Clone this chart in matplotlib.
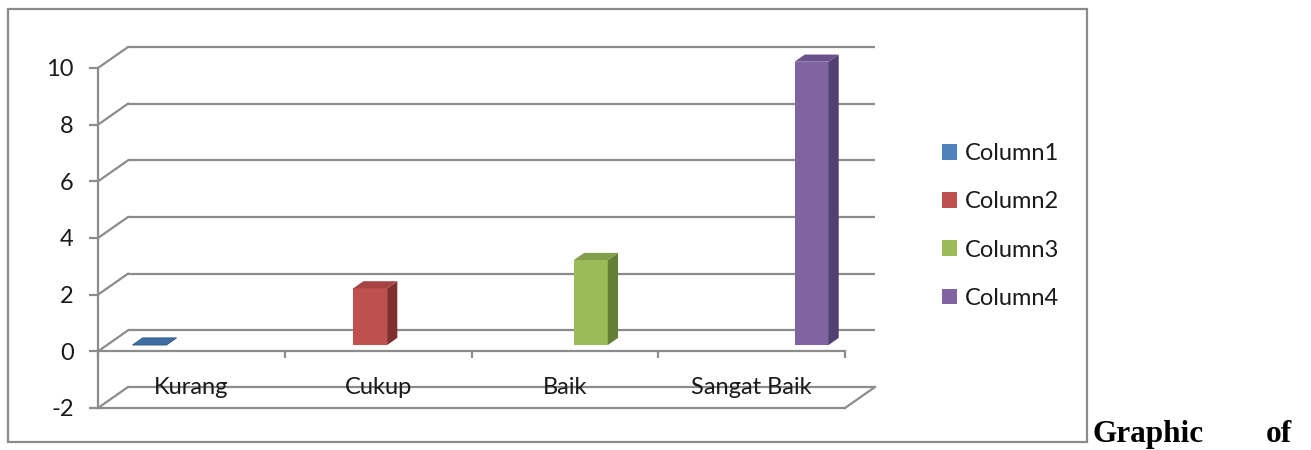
import numpy as np
import matplotlib
matplotlib.use("Agg")
import matplotlib.pyplot as plt
from matplotlib.patches import Polygon, Rectangle

# ---- data ----
categories = ["Kurang", "Cukup", "Baik", "Sangat Baik"]
series_names = ["Column1", "Column2", "Column3", "Column4"]
column1 = [0, np.nan, np.nan, np.nan]
column2 = [np.nan, 2, np.nan, np.nan]
column3 = [np.nan, np.nan, 3, np.nan]
column4 = [np.nan, np.nan, np.nan, 10]
yticks = [-2, 0, 2, 4, 6, 8, 10]

front_colors = ["#4F81BD", "#C0504D", "#9BBB59", "#8064A2"]
top_colors = ["#3F6EA5", "#A54442", "#849F4B", "#69528A"]
side_colors = ["#2F5480", "#7F302E", "#627F35", "#514070"]
grid_color = "#8C8C8C"

W, H = 1311, 450
fig = plt.figure(figsize=(W / 100, H / 100), dpi=100)
fig.patch.set_facecolor("white")

# outer chart border
fig.add_artist(Rectangle((8 / W, 1 - 442 / H), (1087 - 8) / W, (442 - 9) / H,
                         transform=fig.transFigure, fill=False,
                         edgecolor="#8A8A8A", linewidth=1.6))

ax = fig.add_axes([98 / W, 42 / H, 747 / W, 340 / H])
ax.set_xlim(0, len(categories))
ax.set_ylim(yticks[0], yticks[-1])
ax.patch.set_alpha(0)
for s in ["top", "right"]:
    ax.spines[s].set_visible(False)

# depth offset of the 3D box, in data units (derived from pixel sizes)
px_x = 747 / len(categories)
px_y = 340 / (yticks[-1] - yticks[0])
DDX = 30 / px_x
DDY = 21 / px_y

def proj(x, y, z):
    return (x + z * DDX, y + z * DDY)

lw = 1.6
# back wall gridlines + side wall diagonals
for yv in yticks:
    x0, y0 = proj(0, yv, 1)
    x1, y1 = proj(len(categories), yv, 1)
    ax.plot([x0, x1], [y0, y1], color=grid_color, lw=lw, solid_capstyle="butt",
            zorder=1, clip_on=False)
    ax.plot([0, x0], [yv, y0], color=grid_color, lw=lw, zorder=1, clip_on=False)
# floor front edge and right edge
ax.plot([0, len(categories)], [yticks[0], yticks[0]], color=grid_color, lw=lw,
        zorder=1, clip_on=False)
xr, yr = proj(len(categories), yticks[0], 1)
ax.plot([len(categories), xr], [yticks[0], yr], color=grid_color, lw=lw,
        zorder=1, clip_on=False)

# axes styling
ax.spines["left"].set_color(grid_color)
ax.spines["left"].set_linewidth(lw)
ax.spines["bottom"].set_position(("data", 0))
ax.spines["bottom"].set_color(grid_color)
ax.spines["bottom"].set_linewidth(lw)
ax.set_yticks(yticks)
ax.set_yticklabels([str(v) for v in yticks])
ax.tick_params(axis="y", direction="out", length=6.5, width=lw, color=grid_color,
               pad=11, labelsize=17, labelcolor="#1a1a1a")
ax.set_xticks(range(len(categories) + 1))
ax.set_xticklabels([])
ax.tick_params(axis="x", direction="out", length=5, width=lw, color=grid_color)

font = ["Lato", "DejaVu Sans"]
for lab in ax.get_yticklabels():
    lab.set_family(font)

# category labels on the floor
for i, c in enumerate(categories):
    ax.text(i + 0.5, -1.27, c, ha="center", va="center", fontsize=17,
            family=font, color="#1a1a1a", zorder=2, clip_on=False)

# bars (clustered, 3D look)
series = [column1, column2, column3, column4]
n = len(series)
gap = 1.5
w = 1.0 / (n + gap)
z0, z1 = 0.3, 0.64
handles = []
for j, vals in enumerate(series):
    vals = np.asarray(vals, dtype=float)
    xs = np.arange(len(categories)) + gap / 2 * w + j * w
    fx, fy = proj(xs, 0, z0)
    heights = np.where(np.isnan(vals), 0, vals)
    mask = ~np.isnan(vals)
    bc = ax.bar(fx[mask], heights[mask], bottom=fy, width=w, align="edge",
                color=front_colors[j], edgecolor="none", zorder=3,
                label=series_names[j], clip_on=False)
    handles.append(bc)
    for x, v in zip(xs[mask], vals[mask]):
        # side face
        side = [proj(x + w, 0, z0), proj(x + w, 0, z1), proj(x + w, v, z1), proj(x + w, v, z0)]
        ax.add_patch(Polygon(side, closed=True, facecolor=side_colors[j],
                             edgecolor="none", zorder=3, clip_on=False))
        # top face
        top = [proj(x, v, z0), proj(x + w, v, z0), proj(x + w, v, z1), proj(x, v, z1)]
        ax.add_patch(Polygon(top, closed=True, facecolor=top_colors[j],
                             edgecolor=side_colors[j] if v == 0 else "none",
                             linewidth=0.6, zorder=4, clip_on=False))

# legend
leg = fig.legend(handles=handles, labels=series_names, loc="center left",
                 bbox_to_anchor=(942 / W, 1 - 226 / H), frameon=False,
                 borderpad=0, borderaxespad=0, handlelength=0.64, handleheight=0.64,
                 handletextpad=0.34, labelspacing=1.15,
                 prop={"family": font, "size": 17})
for t in leg.get_texts():
    t.set_color("#1a1a1a")

# trailing document text
fig.text(1093 / W, 1 - 442 / H, "Graphic", ha="left", va="baseline",
         fontsize=22.5, fontweight="bold", family="Liberation Serif", color="black")
fig.text(1292 / W, 1 - 442 / H, "of", ha="right", va="baseline",
         fontsize=22.5, fontweight="bold", family="Liberation Serif", color="black")

fig.savefig("out.png", dpi=100, facecolor="white")
